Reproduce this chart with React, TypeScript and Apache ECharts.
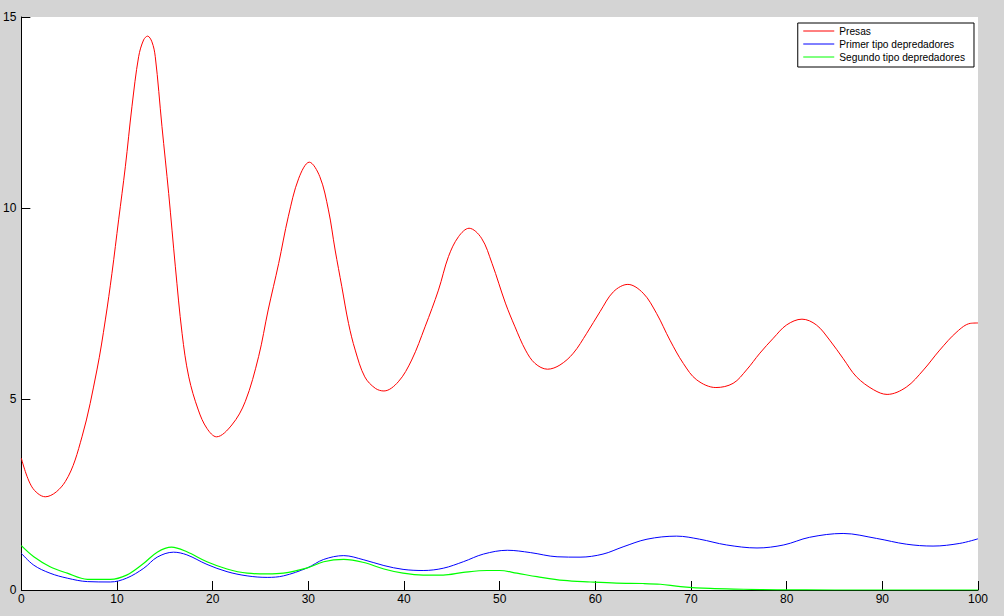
import React, { useEffect, useRef } from "react";
import * as echarts from "echarts";

const seriesNames = ["Presas", "Primer tipo depredadores", "Segundo tipo depredadores"];
const seriesColors = ["#ff0000", "#0000ff", "#00ff00"];

const xTicks = { min: 0, max: 100, interval: 10 };
const yTicks = { min: 0, max: 15, interval: 5 };

const presas: [number, number][] = [
  [0, 3.45], [1.1, 2.7], [2.5, 2.44], [4.6, 2.84], [6.34, 4.01], [7.9, 5.76], [8.78, 7.07],
  [9.47, 8.29], [10.17, 9.69], [10.87, 11.08], [11.56, 12.65], [12.26, 13.96], [12.78, 14.4],
  [13.2, 14.5], [13.65, 14.35], [14.0, 13.96], [14.7, 12.13], [15.4, 10.38], [16.1, 8.46],
  [16.8, 6.72], [17.5, 5.58], [18.5, 4.71], [19.4, 4.23], [20.4, 4.01], [22.0, 4.32],
  [23.4, 4.93], [24.8, 6.11], [25.8, 7.33], [26.9, 8.55], [27.9, 9.77], [29.0, 10.78],
  [30.1, 11.2], [31.2, 10.82], [32.1, 9.95], [32.8, 8.9], [33.5, 7.94], [34.2, 6.98],
  [34.9, 6.28], [35.9, 5.58], [37.0, 5.28], [37.9, 5.21], [39.4, 5.45], [40.8, 6.02],
  [42.2, 6.89], [43.6, 7.85], [44.65, 8.73], [45.7, 9.25], [46.8, 9.47], [48.1, 9.21],
  [49.2, 8.55], [50.6, 7.51], [51.6, 6.89], [52.7, 6.28], [53.7, 5.93], [55.0, 5.78],
  [56.3, 5.89], [57.7, 6.2], [59.1, 6.72], [60.5, 7.29], [61.9, 7.81], [63.4, 8.0],
  [65.0, 7.77], [66.4, 7.24], [67.8, 6.54], [69.2, 5.93], [70.6, 5.5], [72.6, 5.3],
  [74.4, 5.41], [75.8, 5.76], [77.2, 6.2], [78.6, 6.59], [80.0, 6.94], [81.6, 7.09],
  [83.1, 6.94], [84.5, 6.54], [85.9, 6.06], [87.3, 5.58], [89.1, 5.24], [90.5, 5.12],
  [92.5, 5.31], [94.3, 5.76], [96.0, 6.28], [97.8, 6.76], [99.2, 6.98], [100, 6.99],
];

const primerTipo: [number, number][] = [
  [0, 0.96], [1.3, 0.65], [3.0, 0.44], [4.8, 0.31], [6.9, 0.22], [9.3, 0.21], [11.0, 0.31],
  [12.8, 0.57], [14.2, 0.86], [15.9, 0.99], [17.3, 0.92], [19.4, 0.67], [21.5, 0.48],
  [23.6, 0.37], [25.7, 0.33], [27.4, 0.37], [29.9, 0.58], [31.6, 0.8], [33.7, 0.9],
  [35.8, 0.79], [37.9, 0.64], [39.9, 0.54], [42.0, 0.51], [44.1, 0.57], [46.2, 0.74],
  [48.3, 0.94], [50.8, 1.04], [53.2, 0.98], [56.0, 0.87], [58.4, 0.86], [60.8, 0.94],
  [62.9, 1.13], [65.4, 1.33], [68.5, 1.41], [70.9, 1.33], [73.7, 1.18], [76.9, 1.1],
  [79.7, 1.18], [82.4, 1.38], [85.9, 1.48], [89.4, 1.35], [92.5, 1.2], [95.3, 1.15],
  [98.1, 1.22], [100, 1.34],
];

const segundoTipo: [number, number][] = [
  [0, 1.16], [1.3, 0.87], [3.0, 0.61], [4.8, 0.44], [6.9, 0.28], [9.3, 0.28], [11.0, 0.39],
  [12.8, 0.7], [14.2, 0.99], [15.7, 1.12], [17.3, 1.0], [19.4, 0.74], [21.5, 0.55],
  [23.6, 0.44], [25.7, 0.42], [27.4, 0.44], [29.9, 0.58], [31.6, 0.74], [33.7, 0.8],
  [35.8, 0.72], [37.9, 0.55], [39.9, 0.44], [42.0, 0.39], [44.1, 0.39], [46.2, 0.46],
  [48.7, 0.51], [50.0, 0.51], [51.8, 0.44], [53.9, 0.35], [56.7, 0.25], [59.5, 0.21],
  [62.2, 0.18], [65.0, 0.17], [66.8, 0.15], [68.9, 0.09], [72.0, 0.04], [75.5, 0.02],
  [79.0, 0.005], [85.0, 0.0], [100, 0.0],
];

const seriesData = [presas, primerTipo, segundoTipo];

export default function App() {
  const ref = useRef<HTMLDivElement>(null);
  useEffect(() => {
    if (!ref.current) return;
    const chart = echarts.init(ref.current, undefined, { renderer: "svg" });
    const font = "'Liberation Sans', Arial, sans-serif";
    chart.setOption({
      animation: false,
      backgroundColor: "#d4d4d4",
      textStyle: { fontFamily: font },
      grid: {
        left: 21,
        top: 17,
        right: 26,
        bottom: 26,
        show: true,
        backgroundColor: "#ffffff",
        borderWidth: 0,
      },
      legend: {
        orient: "vertical",
        right: 30,
        top: 23,
        padding: [3, 9, 5, 5],
        itemGap: 3,
        itemWidth: 31,
        itemHeight: 12,
        backgroundColor: "#ffffff",
        borderColor: "#000000",
        borderWidth: 1,
        borderRadius: 0,
        itemStyle: { opacity: 0 },
        lineStyle: { width: 1 },
        textStyle: { fontSize: 10.2, color: "#000", fontFamily: font },
        data: seriesNames,
      },
      xAxis: {
        type: "value",
        min: xTicks.min,
        max: xTicks.max,
        interval: xTicks.interval,
        axisLine: { show: true, lineStyle: { color: "#000", width: 1 } },
        axisTick: { show: true, inside: true, length: 9, lineStyle: { color: "#000" } },
        axisLabel: { color: "#000", fontSize: 12, margin: 3, fontFamily: font },
        splitLine: { show: false },
      },
      yAxis: {
        type: "value",
        min: yTicks.min,
        max: yTicks.max,
        interval: yTicks.interval,
        axisLine: { show: true, lineStyle: { color: "#000", width: 1 } },
        axisTick: { show: true, inside: true, length: 9, lineStyle: { color: "#000" } },
        axisLabel: { color: "#000", fontSize: 12, margin: 5, fontFamily: font },
        splitLine: { show: false },
      },
      series: seriesNames.map((name, i) => ({
        name,
        type: "line",
        data: seriesData[i],
        showSymbol: false,
        symbol: "none",
        smooth: 0.35,
        z: 3 + i,
        lineStyle: { color: seriesColors[i], width: i === 2 ? 1.2 : 1 },
        itemStyle: { color: seriesColors[i] },
      })),
    });
    return () => chart.dispose();
  }, []);
  return (
    <div
      ref={ref}
      style={{ position: "absolute", left: 0, top: 0, width: 1004, height: 616 }}
    />
  );
}
